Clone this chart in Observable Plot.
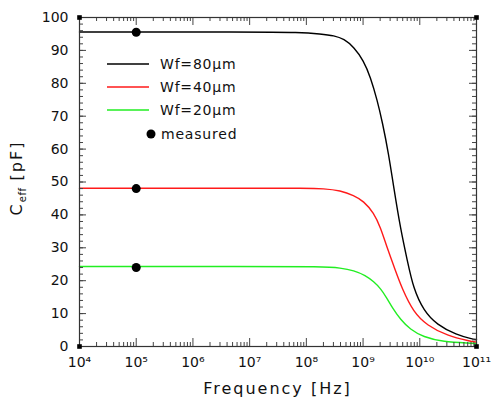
<!DOCTYPE html>
<html>
<head>
<meta charset="utf-8">
<script src="https://cdn.jsdelivr.net/npm/d3@7"></script>
<script src="https://cdn.jsdelivr.net/npm/@observablehq/plot@0.6"></script>
<style>
  html, body { margin: 0; padding: 0; background: #fff; }
  #chart svg { display: block; font-family: "DejaVu Sans", sans-serif; }
</style>
</head>
<body>
<div id="chart"></div>
<script>
// ---- data ----
const freq80 = [1e4, 1e7, 7.9e7, 1.78e8, 3.1e8, 4.6e8, 6.9e8, 1.02e9, 1.35e9, 1.78e9, 2.19e9, 2.82e9, 3.47e9, 4.57e9, 6.03e9, 7.76e9, 1.17e10, 2e10, 4.47e10, 8.3e10, 1e11];
const cap80  = [95.6, 95.6, 95.5, 95.0, 94.5, 93.5, 91.0, 86.9, 81.9, 74.8, 68.2, 58.6, 48.4, 35.8, 26.1, 17.5, 10.9, 6.6, 3.5, 2.3, 2.1];
const freq40 = [1e4, 1e7, 1e8, 2e8, 4e8, 6.9e8, 1.02e9, 1.55e9, 2.04e9, 2.63e9, 3.72e9, 4.9e9, 7.76e9, 1.35e10, 3.02e10, 7.76e10, 1e11];
const cap40  = [48.1, 48.1, 48.1, 48.0, 47.4, 45.9, 44.2, 40.6, 36.1, 30.2, 23.1, 17.5, 10.4, 6.4, 3.3, 1.6, 1.3];
const freq20 = [1e4, 1e7, 2e8, 4e8, 6.9e8, 1.1e9, 1.55e9, 2.04e9, 2.57e9, 3.3e9, 4.57e9, 6.76e9, 1.15e10, 2.57e10, 7.76e10, 1e11];
const cap20  = [24.3, 24.3, 24.3, 23.9, 23.1, 21.6, 19.7, 17.6, 15.0, 11.7, 8.2, 5.2, 2.9, 1.4, 1.0, 0.9];
const measuredFreq = [1e5, 1e5, 1e5];
const measuredCap  = [95.5, 48.0, 24.0];
const seriesNames  = ["Wf=80\u03bcm", "Wf=40\u03bcm", "Wf=20\u03bcm"];
const seriesColors = ["#000000", "#ff1a1a", "#22ee22"];
const xExponents = [4, 5, 6, 7, 8, 9, 10, 11];
const yTicks = [0, 10, 20, 30, 40, 50, 60, 70, 80, 90, 100];
const yMinor = d3.range(0, 101, 2);

// ---- build ----
const W = 491, H = 405;
const mL = 79, mR = 15, mT = 17, mB = 59;
const fw = W - mL - mR, fh = H - mT - mB;

const xMajor = xExponents.map(e => Math.pow(10, e));
const xMinor = [];
for (let e = 4; e < 11; e++) for (let k = 2; k <= 9; k++) xMinor.push(k * Math.pow(10, e));

const sup = {"0":"\u2070","1":"\u00b9","2":"\u00b2","3":"\u00b3","4":"\u2074","5":"\u2075","6":"\u2076","7":"\u2077","8":"\u2078","9":"\u2079"};
const expLabel = v => "10" + String(Math.round(Math.log10(v))).split("").map(c => sup[c]).join("");

const lines = [
  {f: freq80, c: cap80, color: seriesColors[0]},
  {f: freq40, c: cap40, color: seriesColors[1]},
  {f: freq20, c: cap20, color: seriesColors[2]}
].map(s => s.f.map((f, i) => ({f, c: s.c[i], color: s.color})));

const measured = measuredFreq.map((f, i) => ({f, c: measuredCap[i]}));
const corners = [{f:1e4,c:0},{f:1e11,c:0},{f:1e4,c:100},{f:1e11,c:100}];

const MAJ = 8, MIN = 4, YMAJ = 7, YMIN = 4;

const plot = Plot.plot({
  width: W, height: H,
  marginLeft: mL, marginRight: mR, marginTop: mT, marginBottom: mB,
  style: {fontFamily: "DejaVu Sans, sans-serif", background: "#fff"},
  x: {type: "log", domain: [1e4, 1e11], axis: null},
  y: {domain: [0, 100], axis: null},
  marks: [
    ...lines.map(d => Plot.line(d, {x: "f", y: "c", stroke: "color", strokeWidth: 1.4, curve: "basis"})),
    Plot.tickX(xMajor, {x: d => d, insetTop: fh - MAJ, stroke: "#444"}),
    Plot.tickX(xMinor, {x: d => d, insetTop: fh - MIN, stroke: "#444"}),
    Plot.tickX(xMajor, {x: d => d, insetBottom: fh - MAJ, stroke: "#444"}),
    Plot.tickX(xMinor, {x: d => d, insetBottom: fh - MIN, stroke: "#444"}),
    Plot.tickY(yTicks, {y: d => d, insetRight: fw - YMAJ, stroke: "#444"}),
    Plot.tickY(yMinor, {y: d => d, insetRight: fw - YMIN, stroke: "#444"}),
    Plot.tickY(yTicks, {y: d => d, insetLeft: fw - YMAJ, stroke: "#444"}),
    Plot.tickY(yMinor, {y: d => d, insetLeft: fw - YMIN, stroke: "#444"}),
    Plot.frame({stroke: "#333", strokeWidth: 1.2}),
    Plot.axisX(xMajor, {anchor: "bottom", tickSize: 0, tickPadding: 11, tickFormat: expLabel, fontSize: 14, fill: "#111", label: null}),
    Plot.axisY(yTicks, {anchor: "left", tickSize: 0, tickPadding: 11, tickFormat: d => String(d), fontSize: 14, fill: "#111", label: null}),
    Plot.dot(measured, {x: "f", y: "c", r: 4.5, fill: "#000"}),
    Plot.dot(corners, {x: "f", y: "c", symbol: "square", r: 2.6, fill: "#000"})
  ]
});
document.getElementById("chart").appendChild(plot);

const svg = d3.select(plot);
svg.append("text")
  .attr("x", mL + fw / 2).attr("y", 394)
  .attr("text-anchor", "middle")
  .attr("font-size", 16).attr("letter-spacing", 2).attr("fill", "#111")
  .text("Frequency [Hz]");
const yl = svg.append("text")
  .attr("transform", `translate(22, 178) rotate(-90)`)
  .attr("text-anchor", "middle")
  .attr("font-size", 16).attr("letter-spacing", 2).attr("fill", "#111");
yl.append("tspan").text("C");
yl.append("tspan").attr("font-size", 10).attr("dy", 4).attr("letter-spacing", 0.5).text("eff");
yl.append("tspan").attr("dy", -4).text(" [pF]");

const lg = svg.append("g").attr("font-size", 14).attr("letter-spacing", 0.8)
  .attr("fill", "#111").attr("text-anchor", "start");
seriesNames.forEach((name, i) => {
  const y = 64 + i * 23;
  lg.append("line").attr("x1", 107).attr("x2", 149).attr("y1", y).attr("y2", y)
    .attr("stroke", seriesColors[i]).attr("stroke-width", 1.5);
  lg.append("text").attr("x", 160).attr("y", y).attr("dy", "0.35em").text(name);
});
lg.append("circle").attr("cx", 151).attr("cy", 134).attr("r", 4.5).attr("fill", "#000");
lg.append("text").attr("x", 161).attr("y", 134).attr("dy", "0.35em").text("measured");
</script>
</body>
</html>
